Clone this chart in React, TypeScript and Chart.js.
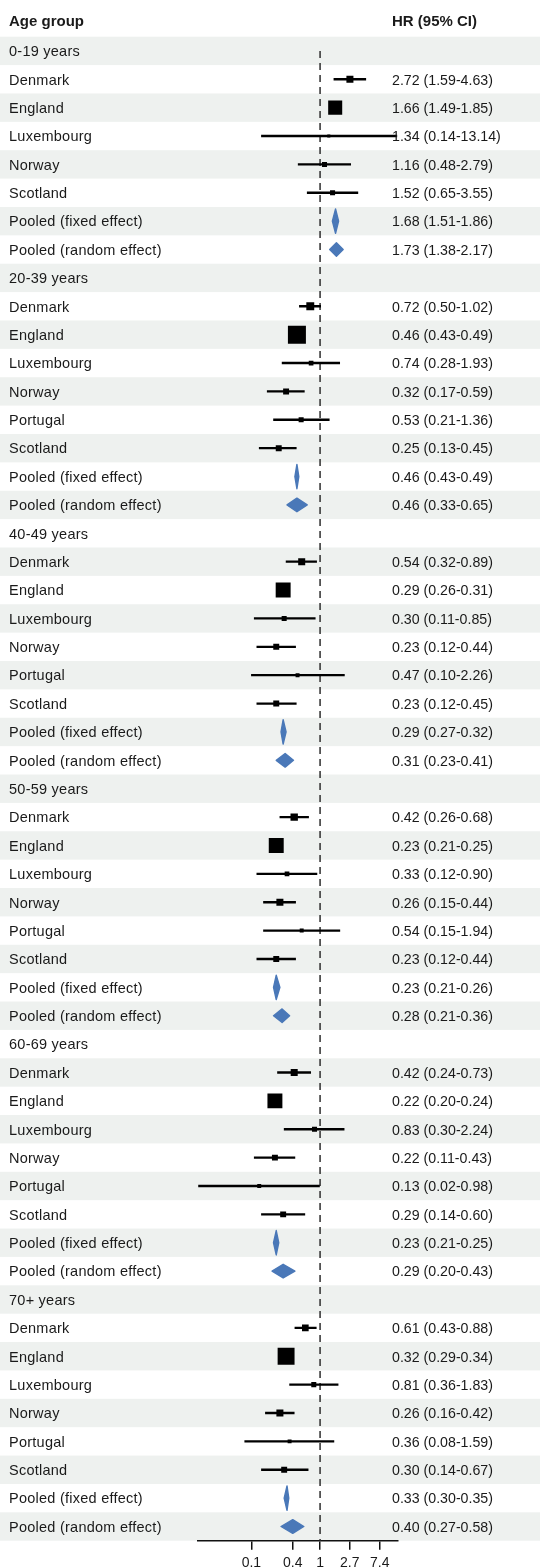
import React, { useEffect, useRef } from "react";
import { Chart, registerables } from "chart.js";

Chart.register(...registerables);

// ---------------- data ----------------
const headerLabels = ["Age group", "HR (95% CI)"];
const groupLabels = ["0-19 years", "20-39 years", "40-49 years", "50-59 years", "60-69 years", "70+ years"];
const pooledLabels = ["Pooled (fixed effect)", "Pooled (random effect)"];

const studyNames = [
  ["Denmark", "England", "Luxembourg", "Norway", "Scotland"],
  ["Denmark", "England", "Luxembourg", "Norway", "Portugal", "Scotland"],
  ["Denmark", "England", "Luxembourg", "Norway", "Portugal", "Scotland"],
  ["Denmark", "England", "Luxembourg", "Norway", "Portugal", "Scotland"],
  ["Denmark", "England", "Luxembourg", "Norway", "Portugal", "Scotland"],
  ["Denmark", "England", "Luxembourg", "Norway", "Portugal", "Scotland"],
];
const studyHR = [
  [2.72, 1.66, 1.34, 1.16, 1.52],
  [0.72, 0.46, 0.74, 0.32, 0.53, 0.25],
  [0.54, 0.29, 0.3, 0.23, 0.47, 0.23],
  [0.42, 0.23, 0.33, 0.26, 0.54, 0.23],
  [0.42, 0.22, 0.83, 0.22, 0.13, 0.29],
  [0.61, 0.32, 0.81, 0.26, 0.36, 0.3],
];
const studyLo = [
  [1.59, 1.49, 0.14, 0.48, 0.65],
  [0.5, 0.43, 0.28, 0.17, 0.21, 0.13],
  [0.32, 0.26, 0.11, 0.12, 0.1, 0.12],
  [0.26, 0.21, 0.12, 0.15, 0.15, 0.12],
  [0.24, 0.2, 0.3, 0.11, 0.017, 0.14],
  [0.43, 0.29, 0.36, 0.16, 0.08, 0.14],
];
const studyHi = [
  [4.63, 1.85, 13.14, 2.79, 3.55],
  [1.02, 0.49, 1.93, 0.59, 1.36, 0.45],
  [0.89, 0.31, 0.85, 0.44, 2.26, 0.45],
  [0.68, 0.25, 0.9, 0.44, 1.94, 0.44],
  [0.73, 0.24, 2.24, 0.43, 0.98, 0.6],
  [0.88, 0.34, 1.83, 0.42, 1.59, 0.67],
];
// relative study weight (1 = largest box)
const studyWeight = [
  [0.39, 0.78, 0.17, 0.28, 0.28],
  [0.44, 1.0, 0.26, 0.33, 0.28, 0.33],
  [0.39, 0.83, 0.28, 0.33, 0.22, 0.33],
  [0.41, 0.83, 0.26, 0.39, 0.22, 0.33],
  [0.39, 0.83, 0.28, 0.33, 0.22, 0.33],
  [0.37, 0.94, 0.28, 0.39, 0.22, 0.33],
];
const fixedHR = [1.68, 0.46, 0.29, 0.23, 0.23, 0.33];
const fixedLo = [1.51, 0.43, 0.27, 0.21, 0.21, 0.3];
const fixedHi = [1.86, 0.49, 0.32, 0.26, 0.25, 0.35];
const randomHR = [1.73, 0.46, 0.31, 0.28, 0.29, 0.4];
const randomLo = [1.38, 0.33, 0.23, 0.21, 0.2, 0.27];
const randomHi = [2.17, 0.65, 0.41, 0.36, 0.43, 0.58];

const xTickValues = [0.1, 0.4, 1, 2.7, 7.4];
const xTickLabels = ["0.1", "0.4", "1", "2.7", "7.4"];
const xMin = 0.0163;
const xMax = 13.5;
const refValue = 1;

// ---------------- styles ----------------
const W = 540;
const H = 1568;
const FONT = "'Liberation Sans', Arial, Helvetica, sans-serif";
const TEXT = "#1a1a1a";
const BAND = "#eef1ef";
const BLUE = "#4a78b8";
const BOX_MAX = 18;
const FIXED_HALF = 0.43; // in rows
const RANDOM_HALF = 0.24; // in rows

type Row = {
  label: string;
  kind: "group" | "study" | "fixed" | "random";
  hr?: number;
  lo?: number;
  hi?: number;
  w?: number;
};

const rows: Row[] = [];
groupLabels.forEach((g, gi) => {
  rows.push({ label: g, kind: "group" });
  studyNames[gi].forEach((n, si) =>
    rows.push({
      label: n,
      kind: "study",
      hr: studyHR[gi][si],
      lo: studyLo[gi][si],
      hi: studyHi[gi][si],
      w: studyWeight[gi][si],
    })
  );
  rows.push({ label: pooledLabels[0], kind: "fixed", hr: fixedHR[gi], lo: fixedLo[gi], hi: fixedHi[gi] });
  rows.push({ label: pooledLabels[1], kind: "random", hr: randomHR[gi], lo: randomLo[gi], hi: randomHi[gi] });
});

const fmt = (v: number) => v.toFixed(2);

export default function App() {
  const ref = useRef<HTMLCanvasElement | null>(null);

  useEffect(() => {
    const canvas = ref.current;
    if (!canvas) return;

    const studyIdx = rows.map((r, i) => ({ r, i })).filter((o) => o.r.kind === "study");

    const bandsPlugin = {
      id: "bands",
      beforeDraw(chart: any) {
        const { ctx } = chart;
        const y = chart.scales.y;
        ctx.save();
        ctx.fillStyle = "#ffffff";
        ctx.fillRect(0, 0, W, H);
        ctx.fillStyle = BAND;
        rows.forEach((_, i) => {
          if (i % 2 !== 0) return;
          const a = y.getPixelForValue(i - 0.5);
          const b = y.getPixelForValue(i + 0.5);
          ctx.fillRect(0, Math.min(a, b), W, Math.abs(b - a));
        });
        ctx.restore();
      },
    };

    const diamondPlugin = {
      id: "diamonds",
      afterDatasetsDraw(chart: any) {
        const { ctx } = chart;
        const x = chart.scales.x;
        const y = chart.scales.y;
        const rowPx = Math.abs(y.getPixelForValue(1) - y.getPixelForValue(0));
        ctx.save();
        ctx.fillStyle = BLUE;
        ctx.strokeStyle = BLUE;
        ctx.lineWidth = 1.4;
        ctx.lineJoin = "round";
        rows.forEach((r, i) => {
          if (r.kind !== "fixed" && r.kind !== "random") return;
          const xl = x.getPixelForValue(r.lo);
          const xc = x.getPixelForValue(r.hr);
          const xr = x.getPixelForValue(r.hi);
          const yc = y.getPixelForValue(i);
          const hh = (r.kind === "fixed" ? FIXED_HALF : RANDOM_HALF) * rowPx;
          ctx.beginPath();
          ctx.moveTo(xl, yc);
          ctx.lineTo(xc, yc - hh);
          ctx.lineTo(xr, yc);
          ctx.lineTo(xc, yc + hh);
          ctx.closePath();
          ctx.fill();
          ctx.stroke();
        });
        ctx.restore();
      },
    };

    const textPlugin = {
      id: "texts",
      afterDraw(chart: any) {
        const { ctx } = chart;
        const y = chart.scales.y;
        ctx.save();
        ctx.fillStyle = TEXT;
        ctx.textAlign = "left";
        ctx.textBaseline = "alphabetic";
        ctx.font = `bold 15px ${FONT}`;
        ctx.fillText(headerLabels[0], 9, 26);
        ctx.fillText(headerLabels[1], 392, 26);
        rows.forEach((r, i) => {
          const yc = y.getPixelForValue(i) + 5.3;
          ctx.font = `14.5px ${FONT}`;
          (ctx as any).letterSpacing = "0.25px";
          ctx.fillText(r.label, 9, yc);
          (ctx as any).letterSpacing = "0px";
          if (r.kind !== "group") {
            ctx.font = `14.2px ${FONT}`;
            ctx.fillText(`${fmt(r.hr!)} (${fmt(r.lo!)}-${fmt(r.hi!)})`, 392, yc);
          }
        });
        ctx.restore();
      },
    };

    const chart = new Chart(canvas, {
      type: "scatter",
      data: {
        datasets: [
          {
            type: "scatter",
            label: "HR",
            data: studyIdx.map((o) => ({ x: o.r.hr, y: o.i })),
            pointStyle: "rect",
            pointRadius: studyIdx.map((o) => (o.r.w! * BOX_MAX) / (2 * Math.SQRT1_2)),
            pointHoverRadius: studyIdx.map((o) => (o.r.w! * BOX_MAX) / (2 * Math.SQRT1_2)),
            backgroundColor: "#000000",
            borderColor: "#000000",
            borderWidth: 0,
            order: 0,
          } as any,
          {
            type: "bar",
            label: "95% CI",
            indexAxis: "y",
            data: studyIdx.map((o) => ({ y: o.i, x: [o.r.lo, o.r.hi] })),
            backgroundColor: "#000000",
            borderWidth: 0,
            barThickness: 1.7,
            order: 1,
          } as any,
          {
            type: "line",
            label: "ref",
            data: [
              { x: refValue, y: 0 },
              { x: refValue, y: rows.length - 0.5 },
            ],
            borderColor: "#3a3a3a",
            borderWidth: 1.6,
            borderDash: [7, 5],
            pointRadius: 0,
            fill: false,
            order: 2,
          } as any,
        ],
      },
      options: {
        animation: false,
        responsive: false,
        devicePixelRatio: 1,
        events: [],
        layout: { padding: { left: 197.3, right: 142.3, top: 36.7, bottom: 0 } },
        plugins: {
          legend: { display: false },
          tooltip: { enabled: false },
          title: { display: false },
        },
        scales: {
          x: {
            type: "logarithmic",
            min: xMin,
            max: xMax,
            beginAtZero: false,
            offset: false,
            afterBuildTicks: (s: any) => {
              s.ticks = xTickValues.map((v) => ({ value: v }));
            },
            afterFit: (s: any) => {
              s.height = 27.3;
            },
            ticks: {
              autoSkip: false,
              maxRotation: 0,
              minRotation: 0,
              padding: 5,
              color: TEXT,
              font: { family: FONT, size: 14 },
              callback: (_v: any, i: number) => xTickLabels[i],
            },
            grid: {
              display: true,
              drawOnChartArea: false,
              drawTicks: true,
              tickLength: 9,
              color: "#111111",
              lineWidth: 1.5,
            },
            border: { display: true, color: "#111111", width: 1.5 },
          },
          y: {
            type: "linear",
            min: -0.5,
            max: rows.length - 0.5,
            reverse: true,
            offset: false,
            display: false,
            grid: { display: false, offset: false },
          },
        },
      } as any,
      plugins: [bandsPlugin, diamondPlugin, textPlugin],
    });

    return () => chart.destroy();
  }, []);

  return (
    <div style={{ position: "absolute", left: 0, top: 0, width: W, height: H }}>
      <canvas ref={ref} width={W} height={H} style={{ display: "block", width: W, height: H }} />
    </div>
  );
}
